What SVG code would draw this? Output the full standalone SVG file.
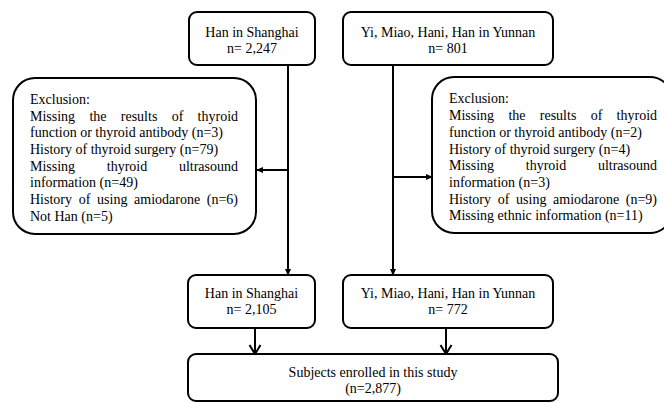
<svg xmlns="http://www.w3.org/2000/svg" width="664" height="403" viewBox="0 0 664 403">
<style>
.box{fill:#fff;stroke:#000;stroke-width:2}
.t{font-family:"Liberation Serif","Times New Roman",serif;font-size:14px;fill:#000}
.c{text-anchor:middle}
.ln{stroke:#000;stroke-width:2;fill:none}
</style>
<defs>
<marker id="tri" markerWidth="8" markerHeight="8" refX="6" refY="4" orient="auto" markerUnits="userSpaceOnUse">
<path d="M0,1 L7,4 L0,7 Z" fill="#000"/>
</marker>
<marker id="chev" markerWidth="14" markerHeight="14" refX="10" refY="7" orient="auto" markerUnits="userSpaceOnUse">
<path d="M1,1.5 L10,7 L1,12.5" fill="none" stroke="#000" stroke-width="2"/>
</marker>
</defs>
<rect width="664" height="403" fill="#fff"/>
<g id="connectors">
<line class="ln" x1="288" y1="65" x2="288" y2="275" marker-end="url(#tri)"/>
<line class="ln" x1="288" y1="170" x2="257" y2="170" marker-end="url(#tri)"/>
<line class="ln" x1="393" y1="65" x2="393" y2="275" marker-end="url(#tri)"/>
<line class="ln" x1="393" y1="177" x2="432" y2="177" marker-end="url(#tri)"/>
<line class="ln" x1="255" y1="328" x2="255" y2="354" marker-end="url(#chev)"/>
<line class="ln" x1="446" y1="328" x2="446" y2="354" marker-end="url(#chev)"/>
</g>
<g id="top-shanghai">
<rect class="box" x="189" y="12" width="126" height="53" rx="8"/>
<text class="t c" x="252" y="37">Han in Shanghai</text>
<text class="t c" x="252" y="53">n= 2,247</text>
</g>
<g id="top-yunnan">
<rect class="box" x="343" y="12" width="210" height="53" rx="8"/>
<text class="t c" x="448" y="37">Yi, Miao, Hani, Han in Yunnan</text>
<text class="t c" x="448" y="53">n= 801</text>
</g>
<g id="exclusion-left">
<rect class="box" x="13" y="78" width="243" height="156" rx="22"/>
<text class="t" y="103.5"><tspan x="30">Exclusion:</tspan></text>
<text class="t" y="120.5"><tspan x="30">Missing</tspan><tspan x="89.4">the</tspan><tspan x="120.8">results</tspan><tspan x="171.7">of</tspan><tspan x="197.6">thyroid</tspan></text>
<text class="t" x="30" y="137">function or thyroid antibody (n=3)</text>
<text class="t" x="30" y="154">History of thyroid surgery (n=79)</text>
<text class="t" y="170.5"><tspan x="30">Missing</tspan><tspan x="106.8">thyroid</tspan><tspan x="178.9">ultrasound</tspan></text>
<text class="t" x="30" y="187">information (n=49)</text>
<text class="t" y="204"><tspan x="30">History</tspan><tspan x="78.7">of</tspan><tspan x="97.1">using</tspan><tspan x="134.1">amiodarone</tspan><tspan x="206.8">(n=6)</tspan></text>
<text class="t" x="30" y="220.5">Not Han (n=5)</text>
</g>
<g id="exclusion-right">
<rect class="box" x="432" y="77" width="240" height="156" rx="22"/>
<text class="t" y="103"><tspan x="449">Exclusion:</tspan></text>
<text class="t" y="120"><tspan x="449">Missing</tspan><tspan x="508.4">the</tspan><tspan x="539.8">results</tspan><tspan x="590.7">of</tspan><tspan x="616.6">thyroid</tspan></text>
<text class="t" x="449" y="136.5">function or thyroid antibody (n=2)</text>
<text class="t" x="449" y="153.5">History of thyroid surgery (n=4)</text>
<text class="t" y="170"><tspan x="449">Missing</tspan><tspan x="525.8">thyroid</tspan><tspan x="597.9">ultrasound</tspan></text>
<text class="t" x="449" y="186.5">information (n=3)</text>
<text class="t" y="203.5"><tspan x="449">History</tspan><tspan x="497.7">of</tspan><tspan x="516.1">using</tspan><tspan x="553.1">amiodarone</tspan><tspan x="625.8">(n=9)</tspan></text>
<text class="t" x="449" y="220">Missing ethnic information (n=11)</text>
</g>
<g id="mid-shanghai">
<rect class="box" x="188" y="275" width="127" height="53" rx="8"/>
<text class="t c" x="251.5" y="298">Han in Shanghai</text>
<text class="t c" x="251.5" y="314">n= 2,105</text>
</g>
<g id="mid-yunnan">
<rect class="box" x="343" y="275" width="210" height="53" rx="8"/>
<text class="t c" x="448" y="298">Yi, Miao, Hani, Han in Yunnan</text>
<text class="t c" x="448" y="314">n= 772</text>
</g>
<g id="enrolled">
<rect class="box" x="188" y="354" width="370" height="47" rx="8"/>
<text class="t c" x="373" y="377">Subjects enrolled in this study</text>
<text class="t c" x="373" y="392.5">(n=2,877)</text>
</g>
</svg>
